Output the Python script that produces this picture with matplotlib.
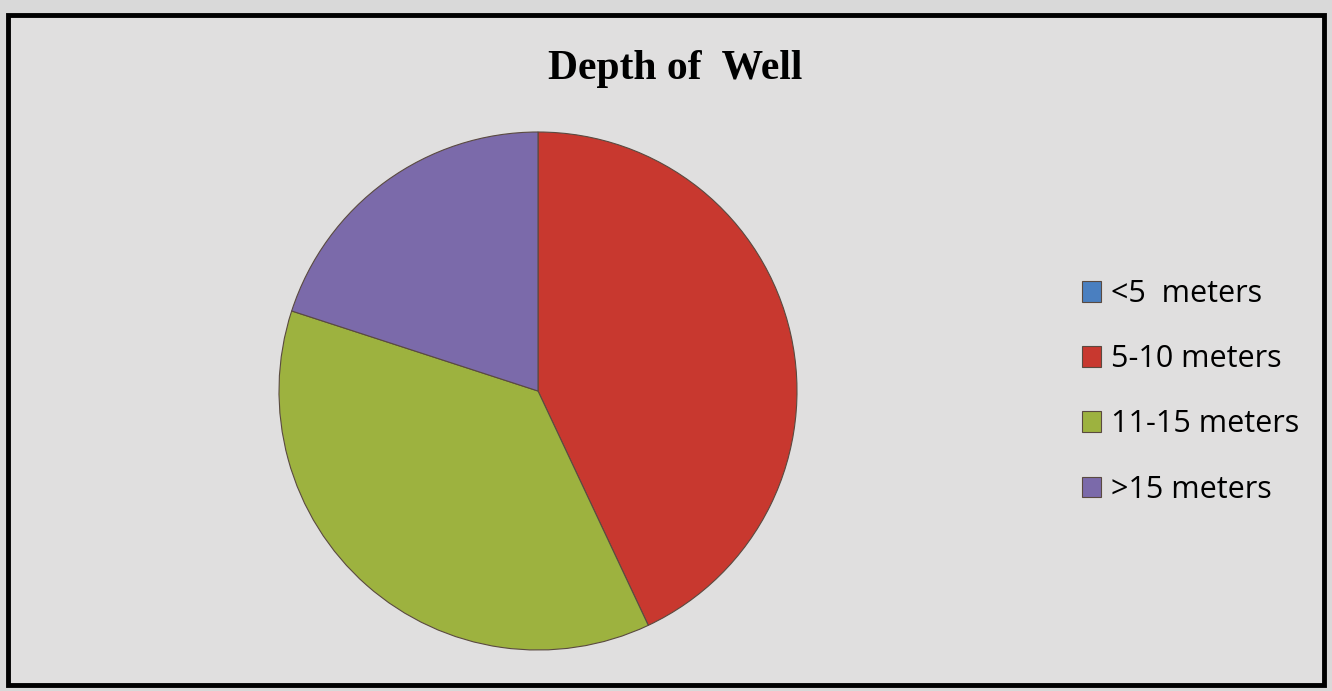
import matplotlib.pyplot as plt
from matplotlib.patches import Rectangle

labels = ['<5  meters', '5-10 meters', '11-15 meters', '>15 meters']
values = [0, 43, 37, 20]
colors = ['#4a7fc0', '#c8382f', '#9db23f', '#7b6aaa']

fig = plt.figure(figsize=(13.32, 6.91), dpi=100, facecolor='#d9d9d9')

# chart frame
fig.patches.append(Rectangle((0.006, 0.008), 0.988, 0.97, transform=fig.transFigure,
                             facecolor='#e0dfdf', edgecolor='black', linewidth=3.5, zorder=-1))

fig.text(0.507, 0.9, 'Depth of  Well', ha='center', va='center',
         fontsize=30, fontweight='bold', family='Liberation Serif')

r = 259
ax = fig.add_axes([(538 - r) / 1332, 1 - (391 + r) / 691, 2 * r / 1332, 2 * r / 691])
wedges, _ = ax.pie(values, colors=colors, startangle=90, counterclock=False,
                   wedgeprops=dict(edgecolor='#5a4a40', linewidth=0.8))
ax.set_aspect('equal')
ax.set_xlim(-1.0, 1.0)
ax.set_ylim(-1.0, 1.0)
ax.axis('off')

fig.legend(wedges, labels, loc='center left', bbox_to_anchor=(0.812, 0.433),
           frameon=False, prop={'family': 'Open Sans', 'size': 22},
           handlelength=0.65, handleheight=0.65, handletextpad=0.3,
           labelspacing=1.15, borderpad=0, borderaxespad=0)

fig.savefig('out.png', dpi=100, facecolor=fig.get_facecolor())
